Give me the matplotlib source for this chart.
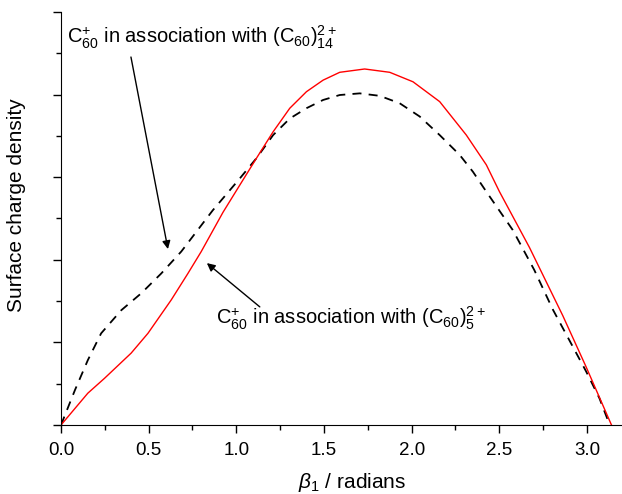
import numpy as np
import matplotlib
matplotlib.use("Agg")
import matplotlib.pyplot as plt
from matplotlib.ticker import MultipleLocator, FixedLocator

plt.rcParams['font.family'] = ['Liberation Sans', 'DejaVu Sans']
plt.rcParams['mathtext.fontset'] = 'custom'
plt.rcParams['mathtext.rm'] = 'Liberation Sans'
plt.rcParams['mathtext.it'] = 'Liberation Sans:italic'

# C60+ with (C60)5 2+  (red, solid)
beta_5 = [0, 0.153, 0.248, 0.40, 0.496, 0.629, 0.724, 0.80, 0.924, 1.020, 1.115,
          1.210, 1.305, 1.400, 1.495, 1.590, 1.732, 1.875, 2.008, 2.160, 2.312,
          2.426, 2.501, 2.672, 2.862, 2.995, 3.14]
sigma_5 = [0, 0.077, 0.113, 0.174, 0.222, 0.303, 0.367, 0.42, 0.515, 0.581, 0.646,
           0.710, 0.767, 0.807, 0.835, 0.854, 0.862, 0.854, 0.831, 0.783, 0.702,
           0.630, 0.565, 0.43, 0.265, 0.141, 0]

# C60+ with (C60)14 2+  (black, dashed)
beta_14 = [0, 0.08, 0.153, 0.229, 0.344, 0.458, 0.572, 0.686, 0.866, 1.020, 1.115,
           1.210, 1.305, 1.400, 1.495, 1.590, 1.704, 1.818, 1.932, 2.046, 2.160,
           2.274, 2.350, 2.426, 2.577, 2.70, 2.805, 2.995, 3.071, 3.13]
sigma_14 = [0, 0.085, 0.157, 0.222, 0.278, 0.319, 0.367, 0.42, 0.52, 0.597, 0.646,
            0.702, 0.742, 0.767, 0.787, 0.799, 0.803, 0.797, 0.779, 0.747, 0.702,
            0.654, 0.613, 0.565, 0.472, 0.375, 0.28, 0.13, 0.065, 0]

fig = plt.figure(figsize=(6.22, 4.94), dpi=100)
ax = fig.add_axes([61 / 622, 1 - 425 / 494, 561 / 622, 413 / 494])

ax.plot(beta_14, sigma_14, color='black', lw=1.3, dashes=(5, 4))
ax.plot(beta_5, sigma_5, color='red', lw=1.0)

ax.set_xlim(0, 3.2)
ax.set_ylim(0, 1.0)
ax.spines['top'].set_visible(False)
ax.spines['right'].set_visible(False)

ax.xaxis.set_major_locator(FixedLocator([0, 0.5, 1.0, 1.5, 2.0, 2.5, 3.0]))
ax.xaxis.set_minor_locator(MultipleLocator(0.25))
ax.yaxis.set_major_locator(MultipleLocator(0.2))
ax.yaxis.set_minor_locator(MultipleLocator(0.1))
ax.set_yticklabels(['0'] + [''] * 10)
ax.tick_params(which='major', direction='out', length=6, width=1, labelsize=13.5)
ax.tick_params(axis='x', which='major', pad=6)
ax.tick_params(which='minor', direction='out', length=3.5, width=1)

ax.set_xlabel(r'$\it{\beta}_{\rm 1}$ / radians', fontsize=15)
ax.xaxis.set_label_coords(0.518, -0.112)
ax.set_ylabel('Surface charge density', fontsize=15)
ax.yaxis.set_label_coords(-0.062, 0.533)

ax.text(0.034, 0.925, r'C$_{60}^{+}$ in association with (C$_{60}$)$_{14}^{2+}$',
        fontsize=14.5, ha='left', va='baseline')
ax.annotate('', xy=(0.610, 0.426), xytext=(0.399, 0.891),
            arrowprops=dict(arrowstyle='-|>', color='black', lw=1, mutation_scale=12,
                            shrinkA=0, shrinkB=0))

ax.text(0.883, 0.245, r'C$_{60}^{+}$ in association with (C$_{60}$)$_{5}^{2+}$',
        fontsize=14.5, ha='left', va='baseline')
ax.annotate('', xy=(0.832, 0.392), xytext=(1.134, 0.286),
            arrowprops=dict(arrowstyle='-|>', color='black', lw=1, mutation_scale=12,
                            shrinkA=0, shrinkB=0))

fig.savefig('out.png', dpi=100)
